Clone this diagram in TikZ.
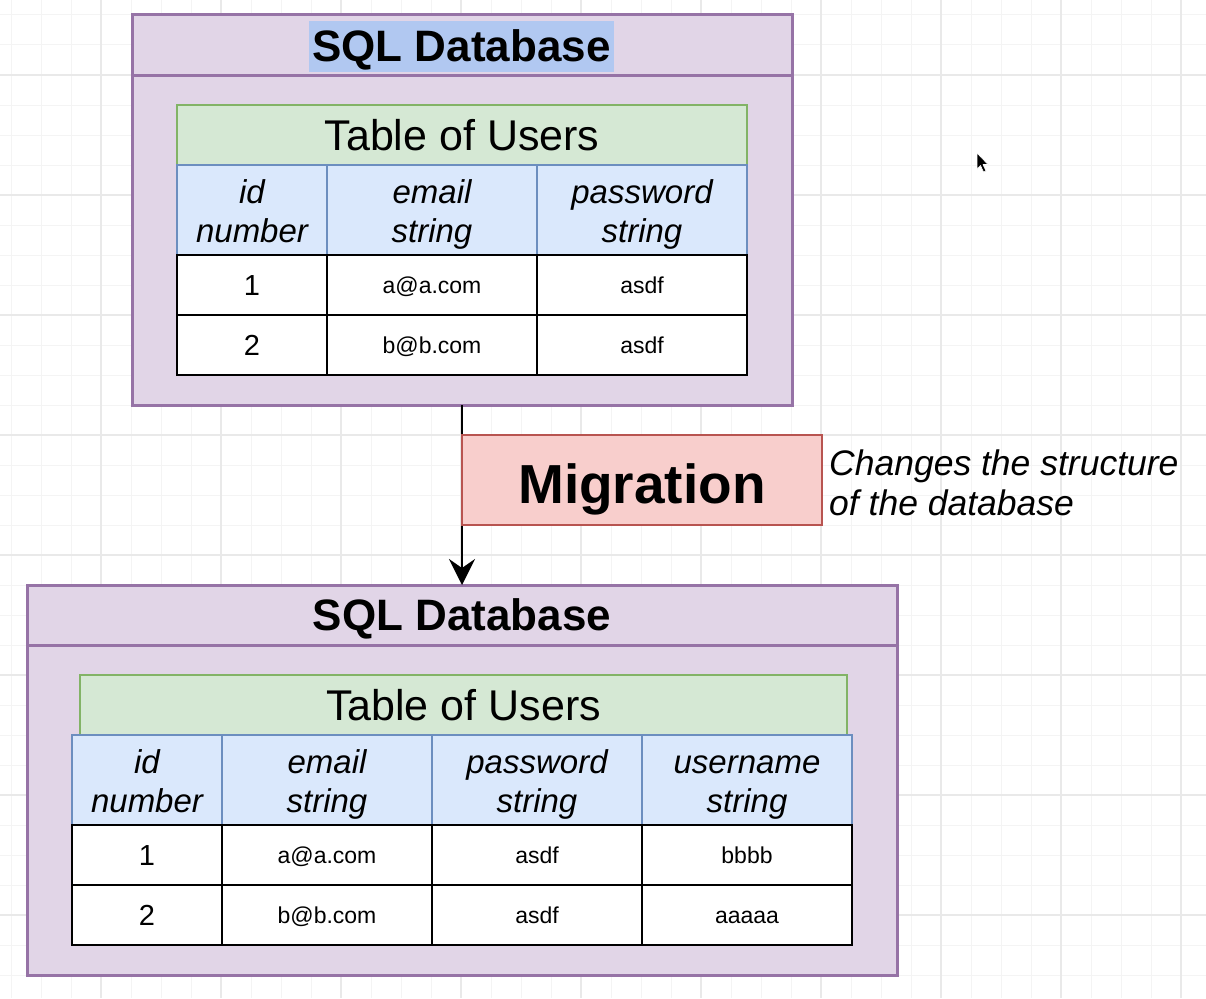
\documentclass[tikz,border=0pt]{standalone}
\usepackage{fontspec}
\setmainfont{Liberation Sans}
\usetikzlibrary{arrows.meta}

\definecolor{dbfill}{HTML}{E1D5E7}
\definecolor{dbline}{HTML}{9673A6}
\definecolor{tfill}{HTML}{D5E8D4}
\definecolor{tline}{HTML}{82B366}
\definecolor{hfill}{HTML}{DAE8FC}
\definecolor{hline}{HTML}{6C8EBF}
\definecolor{mfill}{HTML}{F8CECC}
\definecolor{mline}{HTML}{B85450}
\definecolor{selfill}{HTML}{B1C8F1}
\definecolor{gridminor}{HTML}{F4F4F4}
\definecolor{gridmajor}{HTML}{E9E9E9}

% two-line column heading with fixed vertical metrics
\newcommand\colhd[2]{\rule{0pt}{33pt}#1\\#2\rule[-8pt]{0pt}{8pt}}

\tikzset{
  box/.style={rectangle, inner sep=0pt, outer sep=0pt, anchor=north west},
  dbpart/.style={box, draw=dbline, fill=dbfill, line width=3pt, minimum width=#1},
  dbtitle/.style={font=\fontsize{44}{50}\selectfont\bfseries, text height=32pt, text depth=2pt},
  tabtitle/.style={box, draw=tline, fill=tfill, line width=2.2pt, minimum height=60pt,
    minimum width=#1, font=\fontsize{43}{50}\selectfont, text height=31pt, text depth=0pt},
  colhead/.style={box, draw=hline, fill=hfill, line width=2.2pt, minimum height=90pt,
    minimum width=#1, align=center, font=\fontsize{33}{39}\selectfont\itshape},
  datacell/.style={box, draw=black, fill=white, line width=2.8pt, minimum height=60pt, minimum width=#1},
  idcell/.style={datacell=150pt, font=\fontsize{29}{34}\selectfont, text height=21pt, text depth=0pt},
  valcell/.style={datacell=210pt, font=\fontsize{23}{28}\selectfont, text height=16pt, text depth=0pt},
  minorline/.style={draw=gridminor, line width=1pt},
  majorline/.style={draw=gridmajor, line width=1.2pt},
  flow/.style={draw=black, line width=2pt, -{Stealth[length=26pt, width=26pt, inset=9pt]}},
}

\begin{document}
\begin{tikzpicture}[x=1pt, y=-1pt]
\useasboundingbox (0,0) rectangle (1206,998);
\fill[white] (0,0) rectangle (1206,998);

% background grid
\foreach \gx in {11,41,...,1205} \draw[minorline] (\gx,0) -- (\gx,998);
\foreach \gy in {15,45,...,997} \draw[minorline] (0,\gy) -- (1206,\gy);
\foreach \gx in {101,221,...,1181} \draw[majorline] (\gx,0) -- (\gx,998);
\foreach \gy in {75,195,...,915} \draw[majorline] (0,\gy) -- (1206,\gy);

% ---------- database before the migration ----------
\node[dbpart=660pt, minimum height=60pt] (tophead) at (132,15) {};
\node[dbpart=660pt, minimum height=330pt] (topbody) at (132,75) {};
\node[dbtitle, fill=selfill, minimum width=305pt, minimum height=51pt, inner sep=0pt]
  (toptitle) at (461.5,46.5) {SQL Database};

\node[tabtitle=570pt] (toptab) at (177,105) {Table of Users};
\node[colhead=150pt] (topid)   at (177,165) {\colhd{id}{number}};
\node[colhead=210pt] (topmail) at (327,165) {\colhd{email}{string}};
\node[colhead=210pt] (toppass) at (537,165) {\colhd{password}{string}};

\node[idcell]  (ta1) at (177,255) {1};
\node[valcell] (tb1) at (327,255) {a@a.com};
\node[valcell] (tc1) at (537,255) {asdf};
\node[idcell]  (ta2) at (177,315) {2};
\node[valcell] (tb2) at (327,315) {b@b.com};
\node[valcell] (tc2) at (537,315) {asdf};

% ---------- database after the migration ----------
\node[dbpart=870pt, minimum height=60pt] (bothead) at (27,585) {};
\node[dbpart=870pt, minimum height=330pt] (botbody) at (27,645) {};
\node[dbtitle] (bottitle) at (bothead.center) {SQL Database};

\node[tabtitle=767pt] (bottab) at (80,675) {Table of Users};
\node[colhead=150pt] (botid)   at (72,735)  {\colhd{id}{number}};
\node[colhead=210pt] (botmail) at (222,735) {\colhd{email}{string}};
\node[colhead=210pt] (botpass) at (432,735) {\colhd{password}{string}};
\node[colhead=210pt] (botuser) at (642,735) {\colhd{username}{string}};

\node[idcell]  (ba1) at (72,825)  {1};
\node[valcell] (bb1) at (222,825) {a@a.com};
\node[valcell] (bc1) at (432,825) {asdf};
\node[valcell] (bd1) at (642,825) {bbbb};
\node[idcell]  (ba2) at (72,885)  {2};
\node[valcell] (bb2) at (222,885) {b@b.com};
\node[valcell] (bc2) at (432,885) {asdf};
\node[valcell] (bd2) at (642,885) {aaaaa};

% ---------- migration step ----------
\draw[flow] (topbody.south) -- (bothead.north);
\node[box, draw=mline, fill=mfill, line width=2.2pt, minimum width=360pt, minimum height=90pt,
  font=\fontsize{55}{60}\selectfont\bfseries, text height=46pt, text depth=0pt]
  (mig) at (462,435) {Migration};
\node[anchor=west, inner sep=0pt, align=left, font=\fontsize{35.5}{40}\selectfont\itshape]
  (note) at (829,483) {Changes the structure\\of the database};

% mouse pointer
\filldraw[fill=black, draw=white, line width=0.6pt, line join=round]
  (977,153) -- (977,169) -- (980.5,165.5) -- (983.5,172) -- (986,171) -- (983,164.5) -- (988,164.5) -- cycle;
\end{tikzpicture}
\end{document}
